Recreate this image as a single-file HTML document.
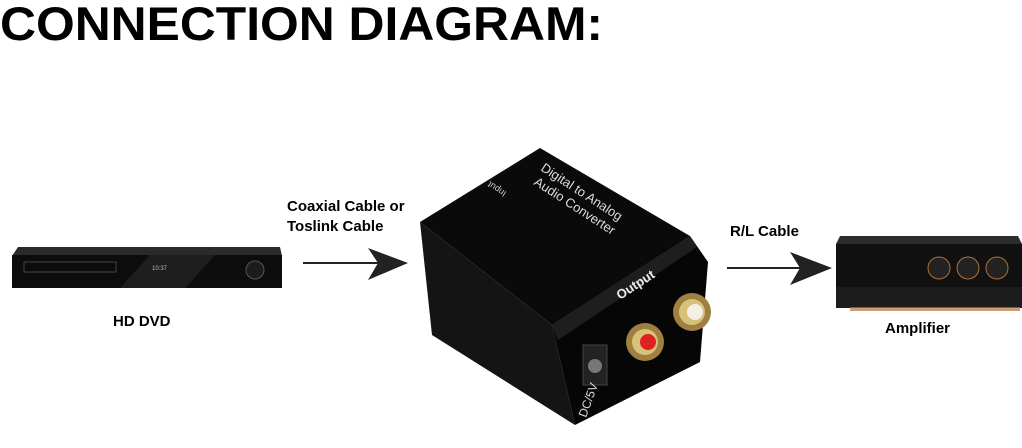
<!DOCTYPE html>
<html><head><meta charset="utf-8"><style>
html,body{margin:0;padding:0;background:#fff;}
body{width:1022px;height:448px;overflow:hidden;position:relative;font-family:"Liberation Sans",Arial,sans-serif;}
</style></head><body>
<svg width="1022" height="448" viewBox="0 0 1022 448" xmlns="http://www.w3.org/2000/svg" style="position:absolute;left:0;top:0">
<text x="0" y="40" font-family="Liberation Sans, Arial, sans-serif" font-weight="bold" font-size="47" fill="#000" textLength="603" lengthAdjust="spacingAndGlyphs">CONNECTION DIAGRAM:</text>
<g font-family="Liberation Sans, Arial, sans-serif" font-weight="bold" font-size="15" fill="#000">
<text x="287" y="211">Coaxial Cable or</text>
<text x="287" y="231">Toslink Cable</text>
<text x="730" y="236">R/L Cable</text>
<text x="113" y="326">HD DVD</text>
<text x="885" y="333">Amplifier</text>
</g>
<!-- arrows -->
<line x1="303" y1="263" x2="385" y2="263" stroke="#222" stroke-width="2"/>
<polygon points="368,248 408,263 368,280 378,263" fill="#222"/>
<line x1="727" y1="268" x2="805" y2="268" stroke="#222" stroke-width="2"/>
<polygon points="790,252 832,268 790,285 800,268" fill="#222"/>
<!-- DVD -->
<polygon points="18,247 280,247 282,256 12,256" fill="#2a2a2a"/>
<rect x="12" y="255" width="270" height="33" fill="#0c0c0c"/>
<polygon points="150,255 215,255 185,288 120,288" fill="#2b2b2b" opacity="0.6"/>
<rect x="24" y="262" width="92" height="10" fill="none" stroke="#444" stroke-width="1"/>
<text x="152" y="270" font-size="6" fill="#bbb" font-family="Liberation Sans">10:37</text>
<circle cx="255" cy="270" r="9" fill="#1c1c1c" stroke="#555"/>
<!-- converter -->
<polygon points="420,222 540,148 690,236 552,325" fill="#0a0a0a"/>
<polygon points="420,222 552,325 575,425 432,335" fill="#141414"/>
<polygon points="552,325 690,236 708,262 700,362 575,425" fill="#060606"/>
<polygon points="552,325 690,236 697,247 558,340" fill="#1e1e1e"/>
<text x="0" y="0" transform="translate(540,170) rotate(33)" font-size="13" fill="#ddd" font-family="Liberation Sans">Digital  to Analog</text>
<text x="0" y="0" transform="translate(533,184) rotate(33)" font-size="13" fill="#ddd" font-family="Liberation Sans">Audio Converter</text>
<text x="0" y="0" transform="translate(507,192) rotate(213)" font-size="9" fill="#ccc" font-family="Liberation Sans">Input</text>
<text x="0" y="0" transform="translate(620,300) rotate(-33)" font-size="13" font-weight="bold" fill="#eee" font-family="Liberation Sans">Output</text>
<circle cx="692" cy="312" r="19" fill="#a08040"/><circle cx="692" cy="312" r="13" fill="#d8c27a"/><circle cx="695" cy="312" r="8" fill="#f4f0e6"/>
<circle cx="645" cy="342" r="19" fill="#a08040"/><circle cx="645" cy="342" r="13" fill="#d8c27a"/><circle cx="648" cy="342" r="8" fill="#e02020"/>
<rect x="583" y="345" width="24" height="40" fill="#222" stroke="#444"/>
<circle cx="595" cy="366" r="7" fill="#777"/>
<text x="0" y="0" transform="translate(586,418) rotate(-70)" font-size="12" fill="#ddd" font-family="Liberation Sans">DC/5V</text>
<!-- amplifier -->
<polygon points="840,236 1018,236 1022,244 836,244" fill="#2c2c2c"/>
<rect x="836" y="244" width="186" height="64" fill="#111"/>
<rect x="836" y="287" width="186" height="21" fill="#1c1c1c"/>
<circle cx="939" cy="268" r="11" fill="#222" stroke="#b07030"/>
<circle cx="968" cy="268" r="11" fill="#222" stroke="#b07030"/>
<circle cx="997" cy="268" r="11" fill="#222" stroke="#b07030"/>
<rect x="850" y="307" width="170" height="4" fill="#b8743a" opacity="0.7"/>
</svg>
</body></html>
